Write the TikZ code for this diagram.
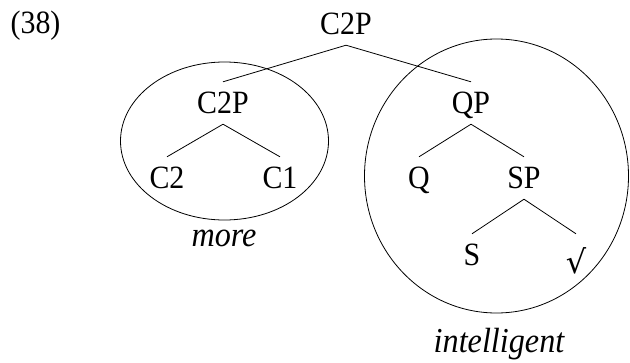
\documentclass[tikz,border=0pt]{standalone}
\usepackage{fontspec}
\setmainfont{Liberation Serif}[FakeStretch=0.92]
\newfontfamily\radfont{DejaVu Serif}
\begin{document}
\begin{tikzpicture}[x=1pt,y=-1pt,
  lbl/.style={font=\fontsize{32.5}{38}\selectfont, inner xsep=0pt, inner ysep=11pt,
    text height=20pt, text depth=0pt, anchor=base},
  itlbl/.style={lbl, font=\fontsize{35}{40}\selectfont\itshape},
  edge/.style={line width=0.8pt},
  ring/.style={line width=0.8pt}]
\useasboundingbox (0,0) rectangle (630,362);
% ellipses
\draw[ring] (224.5,141) ellipse [x radius=104pt, y radius=79pt];
\draw[ring] (496.5,176) ellipse [x radius=132pt, y radius=137pt];
% nodes
\node[lbl] (ex) at (35.5,33) {(38)};
\node[lbl] (r) at (346,34) {C2P};
\node[lbl] (a) at (223,113) {C2P};
\node[lbl] (b) at (471,113) {QP};
\node[lbl] (c2) at (167,188) {C2};
\node[lbl] (c1) at (280,188) {C1};
\node[lbl] (q) at (419,188) {Q};
\node[lbl] (sp) at (524,188) {SP};
\node[lbl] (s) at (472,265) {S};
\node[lbl] (rt) at (576,265) {\raisebox{-8.5pt}{\radfont\fontsize{32}{36}\selectfont √}};
\node[itlbl] (more) at (224,246) {more};
\node[itlbl] (intel) at (499,352) {intelligent};
% edges
\draw[edge] (r.south) -- (a.north);
\draw[edge] (r.south) -- (b.north);
\draw[edge] (a.south) -- (c2.north);
\draw[edge] (a.south) -- (c1.north);
\draw[edge] (b.south) -- (q.north);
\draw[edge] (b.south) -- (sp.north);
\draw[edge] (sp.south) -- (s.north);
\draw[edge] (sp.south) -- (rt.north);
\end{tikzpicture}
\end{document}
